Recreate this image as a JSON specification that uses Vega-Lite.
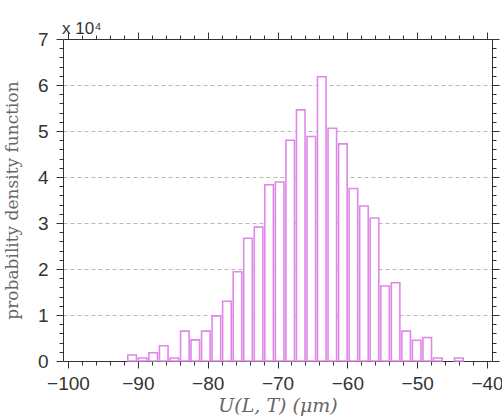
{
  "$schema": "https://vega.github.io/schema/vega-lite/v6.json",
  "width": 429,
  "height": 322,
  "autosize": "none",
  "padding": {"left": 63, "top": 39, "right": 10, "bottom": 59},
  "background": "white",
  "title": {
    "text": "x 10⁴",
    "anchor": "start",
    "frame": "group",
    "font": "Liberation Sans",
    "fontSize": 17,
    "fontWeight": "normal",
    "color": "#333333",
    "offset": 5,
    "dy": 13,
    "dx": -1
  },
  "config": {
    "view": {"stroke": null},
    "axis": {
      "minExtent": 0,
      "labelFont": "Liberation Sans",
      "labelFontSize": 19,
      "labelColor": "#333333",
      "domainColor": "#333333",
      "tickColor": "#333333",
      "tickWidth": 1,
      "titleFont": "DejaVu Serif",
      "titleFontWeight": "normal",
      "titleColor": "#666666"
    }
  },
  "datasets": {
    "hist": [
      {"u": -90.82, "p": 1300},
      {"u": -89.31, "p": 650},
      {"u": -87.80, "p": 1800},
      {"u": -86.29, "p": 3300},
      {"u": -84.78, "p": 650},
      {"u": -83.27, "p": 6500},
      {"u": -81.77, "p": 4600},
      {"u": -80.26, "p": 6500},
      {"u": -78.75, "p": 9800},
      {"u": -77.24, "p": 13000},
      {"u": -75.73, "p": 19400},
      {"u": -74.22, "p": 26700},
      {"u": -72.71, "p": 29100},
      {"u": -71.20, "p": 38300},
      {"u": -69.69, "p": 38900},
      {"u": -68.18, "p": 48000},
      {"u": -66.67, "p": 54600},
      {"u": -65.16, "p": 48800},
      {"u": -63.66, "p": 61800},
      {"u": -62.15, "p": 50600},
      {"u": -60.64, "p": 47200},
      {"u": -59.13, "p": 37500},
      {"u": -57.62, "p": 33700},
      {"u": -56.11, "p": 31100},
      {"u": -54.60, "p": 16300},
      {"u": -53.09, "p": 17000},
      {"u": -51.58, "p": 6500},
      {"u": -50.07, "p": 4500},
      {"u": -48.56, "p": 5100},
      {"u": -47.05, "p": 650},
      {"u": -44.03, "p": 650}
    ]
  },
  "data": {"name": "hist"},
  "layer": [
    {
      "mark": {"type": "bar", "fill": "white", "stroke": "#df88e8", "strokeWidth": 1.6, "size": 8.6},
      "encoding": {
        "x": {
          "field": "u", "type": "quantitative",
          "scale": {"domain": [-100, -40], "nice": false, "zero": false},
          "axis": {
            "orient": "bottom",
            "values": [-100, -90, -80, -70, -60, -50, -40],
            "ticks": false,
            "domain": true,
            "labelPadding": 13,
            "grid": false,
            "labelFlush": false,
            "labelOverlap": false,
            "title": "U(L, T)  (μm)",
            "titleFontStyle": "italic",
            "titleFontSize": 19,
            "titlePadding": 3
          }
        },
        "y": {
          "field": "p", "type": "quantitative",
          "scale": {"domain": [0, 70000], "nice": false},
          "axis": {
            "orient": "left",
            "values": [0, 10000, 20000, 30000, 40000, 50000, 60000, 70000],
            "labelExpr": "format(datum.value / 10000, 'd')",
            "ticks": false,
            "domain": true,
            "labelPadding": 15,
            "labelFlush": false,
            "labelOverlap": false,
            "grid": true,
            "gridColor": "#b8b8b8",
            "gridDash": [4, 3],
            "gridOpacity": {"condition": {"test": "datum.value > 0 && datum.value < 70000", "value": 1}, "value": 0},
            "title": "probability density function",
            "titleFontSize": 17,
            "titlePadding": 16
          }
        }
      }
    },
    {
      "mark": {"type": "bar", "opacity": 0},
      "encoding": {
        "x": {
          "field": "u", "type": "quantitative",
          "axis": {
            "orient": "bottom",
            "values": [-100, -90, -80, -70, -60, -50, -40],
            "labels": false, "domain": false, "grid": false,
            "tickSize": 7, "title": null
          }
        },
        "y": {
          "field": "p", "type": "quantitative",
          "axis": {
            "orient": "left",
            "values": [0, 10000, 20000, 30000, 40000, 50000, 60000, 70000],
            "labels": false, "domain": false, "grid": false,
            "tickSize": 7, "title": null
          }
        }
      }
    },
    {
      "mark": {"type": "bar", "opacity": 0},
      "encoding": {
        "x": {
          "field": "u", "type": "quantitative",
          "axis": {
            "orient": "bottom",
            "values": [-98,-96,-94,-92,-88,-86,-84,-82,-78,-76,-74,-72,-68,-66,-64,-62,-58,-56,-54,-52,-48,-46,-44,-42],
            "labels": false, "domain": false, "grid": false,
            "tickSize": 4, "title": null
          }
        },
        "y": {
          "field": "p", "type": "quantitative",
          "axis": {
            "orient": "left",
            "values": [2000,4000,6000,8000,12000,14000,16000,18000,22000,24000,26000,28000,32000,34000,36000,38000,42000,44000,46000,48000,52000,54000,56000,58000,62000,64000,66000,68000],
            "labels": false, "domain": false, "grid": false,
            "tickSize": 4, "title": null
          }
        }
      }
    },
    {
      "mark": {"type": "bar", "opacity": 0},
      "encoding": {
        "x": {
          "field": "u", "type": "quantitative",
          "axis": {
            "orient": "top",
            "values": [-100, -90, -80, -70, -60, -50, -40],
            "labels": false, "domain": true, "grid": false,
            "tickSize": 7, "title": null
          }
        },
        "y": {
          "field": "p", "type": "quantitative",
          "axis": {
            "orient": "right",
            "values": [0, 10000, 20000, 30000, 40000, 50000, 60000, 70000],
            "labels": false, "domain": true, "grid": false,
            "tickSize": 7, "title": null
          }
        }
      }
    },
    {
      "mark": {"type": "bar", "opacity": 0},
      "encoding": {
        "x": {
          "field": "u", "type": "quantitative",
          "axis": {
            "orient": "top",
            "values": [-98,-96,-94,-92,-88,-86,-84,-82,-78,-76,-74,-72,-68,-66,-64,-62,-58,-56,-54,-52,-48,-46,-44,-42],
            "labels": false, "domain": false, "grid": false,
            "tickSize": 4, "title": null
          }
        },
        "y": {
          "field": "p", "type": "quantitative",
          "axis": {
            "orient": "right",
            "values": [2000,4000,6000,8000,12000,14000,16000,18000,22000,24000,26000,28000,32000,34000,36000,38000,42000,44000,46000,48000,52000,54000,56000,58000,62000,64000,66000,68000],
            "labels": false, "domain": false, "grid": false,
            "tickSize": 4, "title": null
          }
        }
      }
    }
  ],
  "resolve": {"axis": {"x": "independent", "y": "independent"}}
}
